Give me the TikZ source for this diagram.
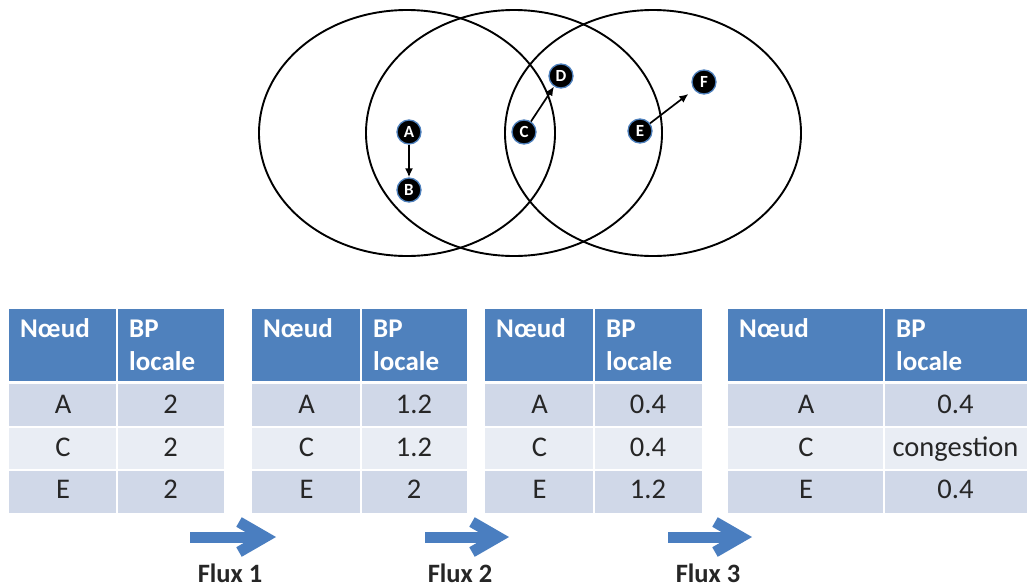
\documentclass[tikz,border=0pt]{standalone}
\usepackage{fontspec}
\setmainfont{Carlito}
\usetikzlibrary{arrows.meta}
\definecolor{hdrblue}{HTML}{4F81BD}
\definecolor{rowdark}{HTML}{D0D8E8}
\definecolor{rowlight}{HTML}{E9EDF4}
\definecolor{fluxblue}{HTML}{4A7EC0}
\definecolor{glow}{HTML}{4F81BD}
\definecolor{bodytxt}{HTML}{262626}

% #1 name, #2 left, #3 split, #4 right, #5 A value, #6 C value, #7 E value
\newcommand{\bptable}[7]{%
  \fill[hdrblue] (#2,309) rectangle (#4,381);
  \fill[rowdark] (#2,381) rectangle (#4,427);
  \fill[rowlight] (#2,427) rectangle (#4,470);
  \fill[rowdark] (#2,470) rectangle (#4,513);
  \draw[white, line width=3pt] (#2,382.5) -- (#4,382.5);
  \draw[white, line width=2pt] (#2,427) -- (#4,427);
  \draw[white, line width=2pt] (#2,470) -- (#4,470);
  \draw[white, line width=2pt] (#3,309) -- (#3,513);
  \node[htext] (#1hn) at (#2+11,337) {Nœud};
  \node[htext] (#1hb) at (#3+12,337) {BP};
  \node[htext] (#1hl) at (#3+12,370) {locale};
  \node[btext] (#1a) at ({(#2+#3)/2},413) {A};
  \node[btext] (#1av) at ({(#3+#4)/2},413) {#5};
  \node[btext] (#1c) at ({(#2+#3)/2},456) {C};
  \node[btext] (#1cv) at ({(#3+#4)/2},456) {#6};
  \node[btext] (#1e) at ({(#2+#3)/2},498) {E};
  \node[btext] (#1ev) at ({(#3+#4)/2},498) {#7};
}

\begin{document}
\begin{tikzpicture}[x=1pt,y=-1pt,
  ring/.style={draw=black, line width=1.9pt},
  gnode/.style={circle, fill=black, draw=glow, line width=1.3pt, minimum size=24pt,
    inner sep=0pt, text=white, font=\fontsize{17}{17}\selectfont\bfseries},
  link/.style={draw=black, line width=1.7pt, -{Latex[length=9pt,width=8pt]}},
  htext/.style={text=white, font=\fontsize{27}{30}\selectfont\bfseries, inner sep=0pt, anchor=base west},
  btext/.style={text=bodytxt, font=\fontsize{28.5}{30}\selectfont, inner sep=0pt, anchor=base},
  fluxshaft/.style={draw=fluxblue, line width=11pt},
  fluxhead/.style={draw=fluxblue, line width=11pt, line join=miter},
  fluxlabel/.style={font=\fontsize{26.5}{30}\selectfont\bfseries, text=bodytxt, anchor=base, inner sep=0pt}]

\useasboundingbox[fill=white] (0,0) rectangle (1027,587);

% range circles
\draw[ring] (407,133) circle [x radius=148pt, y radius=123pt];
\draw[ring] (514,133) circle [x radius=148pt, y radius=123pt];
\draw[ring] (653,133) circle [x radius=148pt, y radius=123pt];

% network nodes
\node[gnode] (A) at (409,132) {A};
\node[gnode] (B) at (409,190) {B};
\node[gnode] (C) at (524,132) {C};
\node[gnode] (D) at (561,76) {D};
\node[gnode] (E) at (640,131) {E};
\node[gnode] (F) at (704,82) {F};

\draw[link] (A) -- (B);
\draw[link] (C) -- (D);
\draw[link, shorten >=7pt] (E) -- (F);

% tables
\bptable{ta}{9}{117}{224}{2}{2}{2}
\bptable{tb}{252}{361}{467}{1.2}{1.2}{2}
\bptable{tc}{485}{594}{702}{0.4}{0.4}{1.2}
\bptable{td}{728}{884}{1027}{0.4}{congestion}{0.4}

% flux arrows
\coordinate (f1s) at (190,537); \coordinate (f1v) at (265,537);
\coordinate (f2s) at (425,537); \coordinate (f2v) at (498,537);
\coordinate (f3s) at (668,537); \coordinate (f3v) at (741,537);
\foreach \f in {1,2,3}{
  \draw[fluxshaft] (f\f s) -- (f\f v);
  \draw[fluxhead] ([shift={(-26,-15)}]f\f v) -- (f\f v) -- ([shift={(-26,15)}]f\f v);
}
\node[fluxlabel] (l1) at (230,582) {Flux 1};
\node[fluxlabel] (l2) at (460,582) {Flux 2};
\node[fluxlabel] (l3) at (708,582) {Flux 3};
\end{tikzpicture}
\end{document}
